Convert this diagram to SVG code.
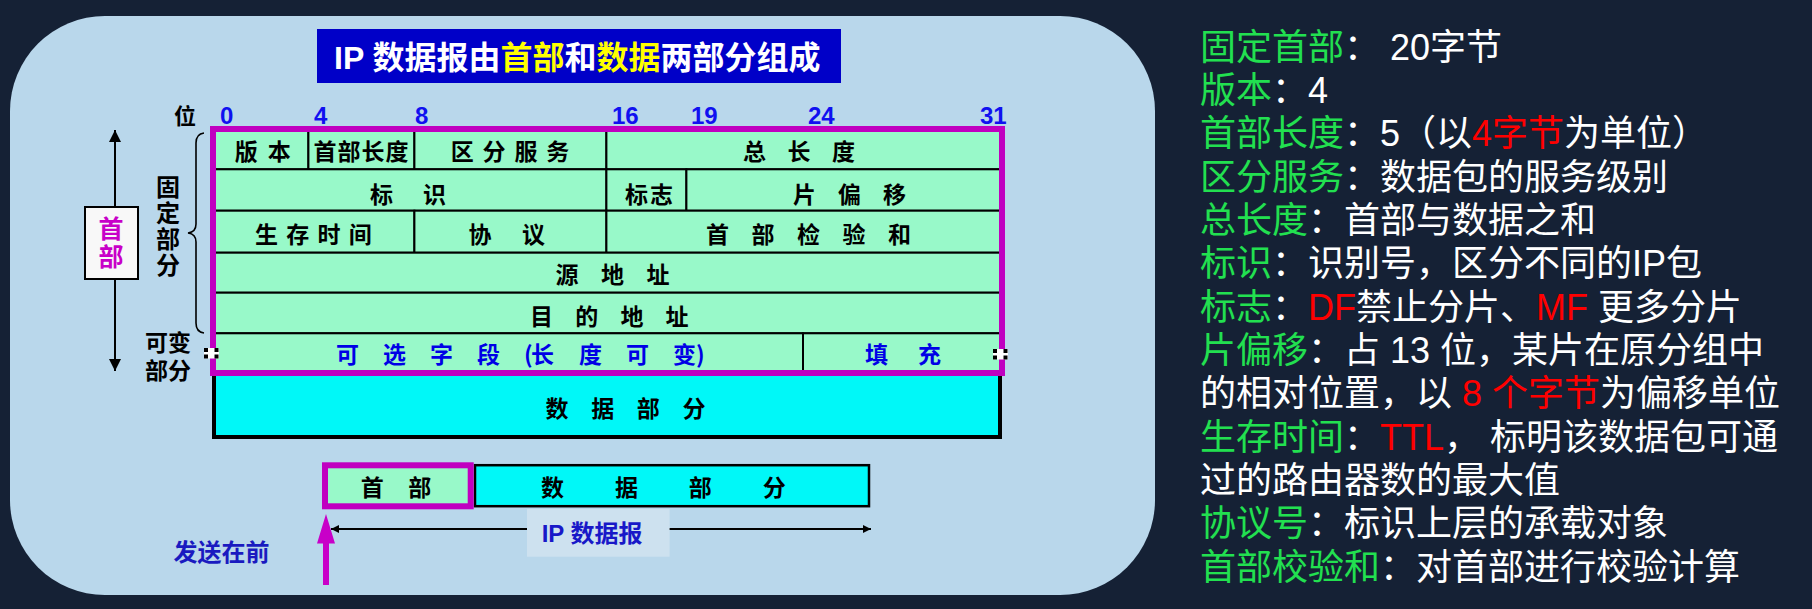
<svg xmlns="http://www.w3.org/2000/svg" width="1812" height="609" viewBox="0 0 1812 609">
<style>
.cjk{font-family:"Noto Sans CJK SC","Liberation Sans",sans-serif;font-weight:700}
.lat{font-family:"Liberation Sans","Noto Sans CJK SC",sans-serif;font-weight:700}
.f{fill:#98f9c9;stroke:#000;stroke-width:2}
.lbl{font-size:23px;fill:#000;text-anchor:middle}
.blue{fill:#0000e6}
.num{font-size:24px;fill:#1010f0}
.side{font-family:"Liberation Sans","Noto Sans CJK SC",sans-serif;font-size:36px;fill:#fff}
.g{fill:#22e050}
.r{fill:#ff0000}
.vert{writing-mode:vertical-rl}
</style>
<defs>
<marker id="ah" viewBox="0 0 10 10" refX="10" refY="5" markerWidth="11" markerHeight="8" markerUnits="userSpaceOnUse" orient="auto"><path d="M0,0L10,5L0,10z" fill="#000"/></marker>
<marker id="ahb" viewBox="0 0 10 10" refX="10" refY="5" markerWidth="19" markerHeight="12" markerUnits="userSpaceOnUse" orient="auto-start-reverse"><path d="M0,0L10,5L0,10z" fill="#000"/></marker>
</defs>
<rect width="1812" height="609" fill="#152135"/>
<rect x="10" y="16" width="1145" height="579" rx="95" ry="95" fill="#b9d7eb"/>

<g id="title">
<rect x="317" y="29" width="524" height="54" fill="#0000c8"/>
<text x="334" y="69" class="lat" font-size="32" fill="#fff">IP 数据报由<tspan fill="#ffff00">首部</tspan>和<tspan fill="#ffff00">数据</tspan>两部分组成</text>
</g>

<g id="bit-ruler">
<text x="185" y="124" class="cjk" font-size="22" text-anchor="middle" fill="#000">位</text>
<text x="220" y="124" class="lat num">0</text>
<text x="314" y="124" class="lat num">4</text>
<text x="415" y="124" class="lat num">8</text>
<text x="612" y="124" class="lat num">16</text>
<text x="691" y="124" class="lat num">19</text>
<text x="808" y="124" class="lat num">24</text>
<text x="980" y="124" class="lat num">31</text>
</g>

<g id="header-arrow">
<line x1="115" y1="130" x2="115" y2="371" stroke="#000" stroke-width="2" marker-start="url(#ahb)" marker-end="url(#ahb)"/>
<rect x="85" y="207" width="53" height="72" fill="#f8f8f8" stroke="#000" stroke-width="2"/>
<text x="111" y="216" class="cjk vert" font-size="25" fill="#c800c8" letter-spacing="3">首部</text>
</g>

<g id="fixed-label">
<text x="168" y="175" class="cjk vert" font-size="24" fill="#000" letter-spacing="2">固定部分</text>
<path d="M204,133 Q196,134 196,143 L196,224 Q196,232 188,233 Q196,234 196,242 L196,323 Q196,332 204,333" fill="none" stroke="#000" stroke-width="1.6"/>
</g>

<g id="variable-label">
<text x="168" y="351" class="cjk" font-size="23" fill="#000" text-anchor="middle">可变</text>
<text x="168" y="379" class="cjk" font-size="23" fill="#000" text-anchor="middle">部分</text>
</g>

<g id="data-part">
<rect x="214" y="371" width="786" height="66" fill="#00f8f8" stroke="#000" stroke-width="4"/>
<text x="625.5" y="416.5" class="cjk lbl" textLength="160" lengthAdjust="spacing">数 据 部 分</text>
</g>

<g id="f-version"><rect class="f" x="213" y="129" width="95.4" height="40.3"/><text x="262.8" y="160" class="cjk lbl" textLength="56" lengthAdjust="spacing">版 本</text></g>
<g id="f-ihl"><rect class="f" x="308.4" y="129" width="106" height="40.3"/><text x="361" y="160" class="cjk lbl" textLength="95" lengthAdjust="spacing">首部长度</text></g>
<g id="f-ds"><rect class="f" x="414.4" y="129" width="192" height="40.3"/><text x="510" y="160" class="cjk lbl" textLength="118.6" lengthAdjust="spacing">区 分 服 务</text></g>
<g id="f-total"><rect class="f" x="606.4" y="129" width="395.6" height="40.3"/><text x="799" y="160" class="cjk lbl" textLength="112" lengthAdjust="spacing">总 长 度</text></g>

<g id="f-id"><rect class="f" x="213" y="169.3" width="393.4" height="41.4"/><text x="408" y="202.5" class="cjk lbl" textLength="76" lengthAdjust="spacing">标 识</text></g>
<g id="f-flags"><rect class="f" x="606.4" y="169.3" width="80" height="41.4"/><text x="649" y="202.5" class="cjk lbl" textLength="48" lengthAdjust="spacing">标志</text></g>
<g id="f-offset"><rect class="f" x="686.4" y="169.3" width="315.6" height="41.4"/><text x="849.5" y="202.5" class="cjk lbl" textLength="113" lengthAdjust="spacing">片 偏 移</text></g>

<g id="f-ttl"><rect class="f" x="213" y="210.7" width="201.4" height="42"/><text x="313.4" y="242.5" class="cjk lbl" textLength="116.7" lengthAdjust="spacing">生 存 时 间</text></g>
<g id="f-proto"><rect class="f" x="414.4" y="210.7" width="192" height="42"/><text x="506.8" y="242.5" class="cjk lbl" textLength="76.4" lengthAdjust="spacing">协 议</text></g>
<g id="f-checksum"><rect class="f" x="606.4" y="210.7" width="395.6" height="42"/><text x="808.5" y="242.5" class="cjk lbl" textLength="205" lengthAdjust="spacing">首 部 检 验 和</text></g>

<g id="f-src"><rect class="f" x="213" y="252.7" width="789" height="40"/><text x="612.6" y="282.7" class="cjk lbl" textLength="114" lengthAdjust="spacing">源 地 址</text></g>
<g id="f-dst"><rect class="f" x="213" y="292.7" width="789" height="40.6"/><text x="609.3" y="324.7" class="cjk lbl" textLength="158.6" lengthAdjust="spacing">目 的 地 址</text></g>

<g id="f-options"><rect class="f" x="213" y="333.3" width="590" height="39.7"/><text x="336 359 383 406 430 453 477 500 524 531 554 579 602 626 649 673 696" y="362.7" class="cjk blue" font-size="23">可 选 字 段 (长 度 可 变)</text></g>
<g id="f-padding"><rect class="f" x="803" y="333.3" width="199" height="39.7"/><text x="903" y="362.7" class="cjk lbl blue" textLength="76" lengthAdjust="spacing">填 充</text></g>

<g id="header-border">
<rect x="213" y="129" width="789" height="244" fill="none" stroke="#c000c0" stroke-width="6"/>
<rect x="204" y="348" width="15" height="10.5" fill="#fff"/>
<rect x="204" y="348" width="4" height="4" fill="#000"/><rect x="204" y="354.5" width="4" height="4" fill="#000"/>
<rect x="214.5" y="348" width="4" height="4" fill="#000"/><rect x="214.5" y="354.5" width="4" height="4" fill="#000"/>
<rect x="993" y="349" width="15" height="10.5" fill="#fff"/>
<rect x="993" y="349" width="4" height="4" fill="#000"/><rect x="993" y="355.5" width="4" height="4" fill="#000"/>
<rect x="1003.5" y="349" width="4" height="4" fill="#000"/><rect x="1003.5" y="355.5" width="4" height="4" fill="#000"/>
</g>

<g id="datagram-data">
<rect x="475" y="465.2" width="394" height="41" fill="#00f8f8" stroke="#000" stroke-width="2.5"/>
<text x="663.4" y="496" class="cjk lbl" textLength="244.7" lengthAdjust="spacing">数 据 部 分</text>
</g>
<g id="datagram-header">
<rect x="325" y="465.3" width="145.7" height="41" fill="#98f9c9" stroke="#c000c0" stroke-width="6"/>
<text x="396" y="496" class="cjk lbl" textLength="70.4" lengthAdjust="spacing">首 部</text>
</g>

<g id="connectors">
<line x1="527" y1="529" x2="331" y2="529" stroke="#000" stroke-width="2" marker-end="url(#ah)"/>
<line x1="669" y1="529" x2="871" y2="529" stroke="#000" stroke-width="2" marker-end="url(#ah)"/>
<polygon points="326,514 335,543.5 329,543.5 329,585 323,585 323,543.5 317,543.5" fill="#c800c8"/>
</g>

<g id="datagram-label">
<rect x="527" y="509" width="142.6" height="47.7" fill="#cde1ef"/>
<text x="541.7" y="542" class="lat" font-size="24" fill="#1818c8">IP 数据报</text>
</g>

<g id="send-first">
<text x="221.5" y="561" class="cjk" font-size="24" fill="#1a1ac0" text-anchor="middle">发送在前</text>
</g>

<g id="notes" class="side">
<text x="1200" y="59.5"><tspan class="g">固定首部</tspan>： 20字节</text>
<text x="1200" y="102.8"><tspan class="g">版本</tspan>：4</text>
<text x="1200" y="146.2"><tspan class="g">首部长度</tspan>：5（以<tspan class="r">4字节</tspan>为单位）</text>
<text x="1200" y="189.5"><tspan class="g">区分服务</tspan>：数据包的服务级别</text>
<text x="1200" y="232.8"><tspan class="g">总长度</tspan>：首部与数据之和</text>
<text x="1200" y="276.2"><tspan class="g">标识</tspan>：识别号，区分不同的IP包</text>
<text x="1200" y="319.5"><tspan class="g">标志</tspan>：<tspan class="r">DF</tspan>禁止分片、<tspan class="r">MF</tspan> 更多分片</text>
<text x="1200" y="362.8"><tspan class="g">片偏移</tspan>：占 13 位，某片在原分组中</text>
<text x="1200" y="406.2">的相对位置，以 <tspan class="r">8 个字节</tspan>为偏移单位</text>
<text x="1200" y="449.5"><tspan class="g">生存时间</tspan>：<tspan class="r">TTL</tspan>， 标明该数据包可通</text>
<text x="1200" y="492.8">过的路由器数的最大值</text>
<text x="1200" y="536.2"><tspan class="g">协议号</tspan>：标识上层的承载对象</text>
<text x="1200" y="579.5"><tspan class="g">首部校验和</tspan>：对首部进行校验计算</text>
</g>
</svg>
